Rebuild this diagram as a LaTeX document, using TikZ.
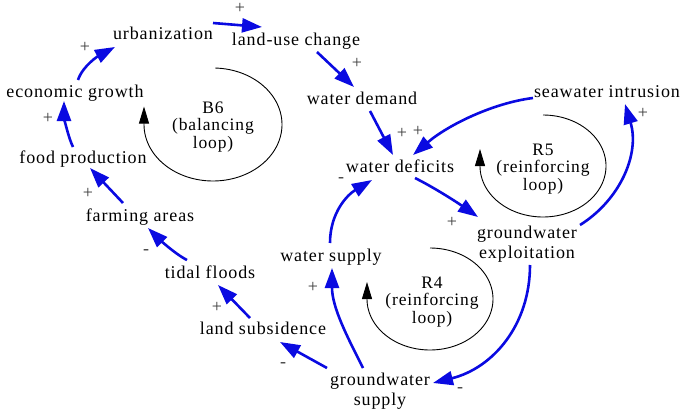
\documentclass[tikz,border=0pt]{standalone}
\usepackage{fontspec}
\setmainfont{Liberation Serif}[LetterSpace=5]
\usetikzlibrary{arrows.meta}
\definecolor{cldblue}{RGB}{10,10,225}
\definecolor{signgray}{RGB}{60,60,60}
\begin{document}
\begin{tikzpicture}[x=1pt,y=-1pt,
  var/.style={anchor=base,inner sep=0pt,font=\fontsize{18}{20}\selectfont,align=center},
  loopname/.style={anchor=base,inner sep=0pt,font=\fontsize{17.5}{17.5}\selectfont,align=center},
  link/.style={draw=cldblue,line width=2.6pt,-{Triangle[length=20pt,width=14pt]}},
  looparrow/.style={draw=black,line width=0.9pt,-{Triangle[length=17pt,width=10pt]}},
  sign/.style={inner sep=0pt,font=\fontsize{18}{18}\selectfont,text=signgray}]
\useasboundingbox (0,0) rectangle (685,415);

% variables
\node[var] (urb) at (163,39) {urbanization};
\node[var] (luc) at (296,45) {land-use change};
\node[var] (wd)  at (362,104) {water demand};
\node[var] (sea) at (607,97) {seawater intrusion};
\node[var] (eg)  at (75,97) {economic growth};
\node[var] (fp)  at (83,163) {food production};
\node[var] (def) at (400,172) {water deficits};
\node[var] (fa)  at (140,221) {farming areas};
\node[var] (tf)  at (210,278) {tidal floods};
\node[var] (ws)  at (331,261) {water supply};
\node[var] (ls)  at (263,334) {land subsidence};
\node[var] (gwe) at (527,258) {groundwater\\exploitation};
\node[var] (gws) at (380,405) {groundwater\\supply};

% loop names
\node[loopname] (b6) at (213,148) {B6\\(balancing\\loop)};
\node[loopname] (r5) at (543,190) {R5\\(reinforcing\\loop)};
\node[loopname] (r4) at (432,323) {R4\\(reinforcing\\loop)};

% loop arrows
\draw[looparrow] plot[domain=-88:180,samples=90] ({213+69*cos(\x)},{124.5+56.5*sin(\x)}) -- ++(0,-18);
\draw[looparrow] plot[domain=-90:180,samples=90] ({543+63*cos(\x)},{166+51*sin(\x)}) -- ++(0,-17);
\draw[looparrow] plot[domain=-90:180,samples=90] ({430+63*cos(\x)},{299+51*sin(\x)}) -- ++(0,-17);

% causal links
\draw[link] ([shift={(50,-16)}]urb.base) -- ([shift={(-34,-18)}]luc.base);
\draw[link] ([shift={(21,7)}]luc.base) -- ([shift={(-8,-17)}]wd.base);
\draw[link] ([shift={(8,7)}]wd.base) -- ([shift={(-7,-17)}]def.base);
\draw[link] ([shift={(-74,1)}]sea.base) .. controls +(-40,5) and +(35,-30) .. ([shift={(13,-17)}]def.base);
\draw[link] ([shift={(15,6)}]def.base) .. controls +(20,10) and +(-20,-14) .. ([shift={(-49,-41)}]gwe.base);
\draw[link] ([shift={(53,-33)}]gwe.base) .. controls +(40,-25) and +(15,50) .. ([shift={(18,7)}]sea.base);
\draw[link] ([shift={(3,7)}]gwe.base) .. controls +(0,60) and +(60,-15) .. ([shift={(53,-22)}]gws.base);
\draw[link] ([shift={(-17,-37)}]gws.base) .. controls +(-15,-30) and +(0,40) .. ([shift={(1,7)}]ws.base);
\draw[link] ([shift={(-1,-18)}]ws.base) .. controls +(0,-30) and +(-25,15) .. ([shift={(-28,8)}]def.base);
\draw[link] ([shift={(-53,-37)}]gws.base) -- ([shift={(17,8)}]ls.base);
\draw[link] ([shift={(-13,-16)}]ls.base) -- ([shift={(8,7)}]tf.base);
\draw[link] ([shift={(-23,-18)}]tf.base) .. controls +(-12,-6) and +(10,10) .. ([shift={(8,7)}]fa.base);
\draw[link] ([shift={(-17,-18)}]fa.base) -- ([shift={(7,5)}]fp.base);
\draw[link] ([shift={(-10,-16)}]fp.base) .. controls +(-5,-10) and +(0,15) .. ([shift={(-11,4)}]eg.base);
\draw[link] ([shift={(3,-17)}]eg.base) .. controls +(5,-15) and +(-15,8) .. ([shift={(-48,8)}]urb.base);

% polarity signs
\node[sign] (s1)  at (240,8) {+};
\node[sign] (s2)  at (357,63) {+};
\node[sign] (s3)  at (402,133) {+};
\node[sign] (s4)  at (418,131) {+};
\node[sign] (s5)  at (643,113) {+};
\node[sign] (s6)  at (452,222) {+};
\node[sign] (s7)  at (460,390) {-};
\node[sign] (s8)  at (313,287) {+};
\node[sign] (s9)  at (341,180) {-};
\node[sign] (s10) at (283,365) {-};
\node[sign] (s11) at (217,307) {+};
\node[sign] (s12) at (146,252) {-};
\node[sign] (s13) at (88,193) {+};
\node[sign] (s14) at (48,118) {+};
\node[sign] (s15) at (85,47) {+};
\end{tikzpicture}
\end{document}
